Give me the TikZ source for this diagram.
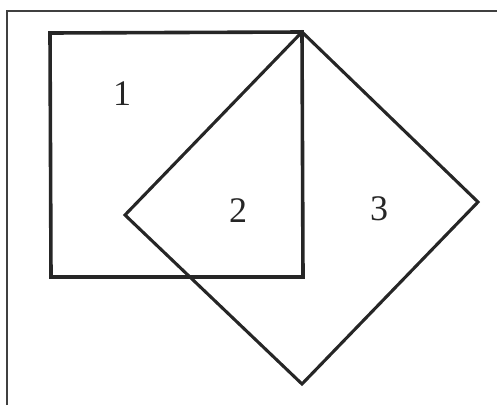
\documentclass[tikz,border=0pt]{standalone}
\usepackage{fontspec}
\setmainfont{Liberation Serif}
\usepackage{tikz}

\tikzstyle{frameline}=[draw=black!75,line width=1.2pt]
\tikzstyle{outline}=[draw=black!85,line width=3.6pt,line join=miter]
\tikzstyle{tilted}=[draw=black!85,line width=3.1pt,line join=miter]
\tikzstyle{region}=[font=\fontsize{36}{36}\selectfont,text=black!85]

\begin{document}
\begin{tikzpicture}[x=1pt,y=-1pt]
\useasboundingbox (0,0) rectangle (497,405);
% frame
\coordinate (f1) at (7,405);
\coordinate (f2) at (7,11);
\coordinate (f3) at (497,11);
\draw[frameline] (f1) -- (f2) -- (f3);
% square
\coordinate (a1) at (50,33);
\coordinate (a2) at (302,32);
\coordinate (a3) at (303,277);
\coordinate (a4) at (51,277);
\draw[outline] (a1) -- (a2) -- (a3) -- (a4) -- cycle;
% tilted square
\coordinate (b1) at (478,202);
\coordinate (b2) at (302,384);
\coordinate (b3) at (125,215);
\draw[tilted] (a2) -- (b1) -- (b2) -- (b3) -- cycle;
% labels
\node[region] (r1) at (122,94) {1};
\node[region] (r2) at (238,211) {2};
\node[region] (r3) at (379,209) {3};
\end{tikzpicture}
\end{document}
